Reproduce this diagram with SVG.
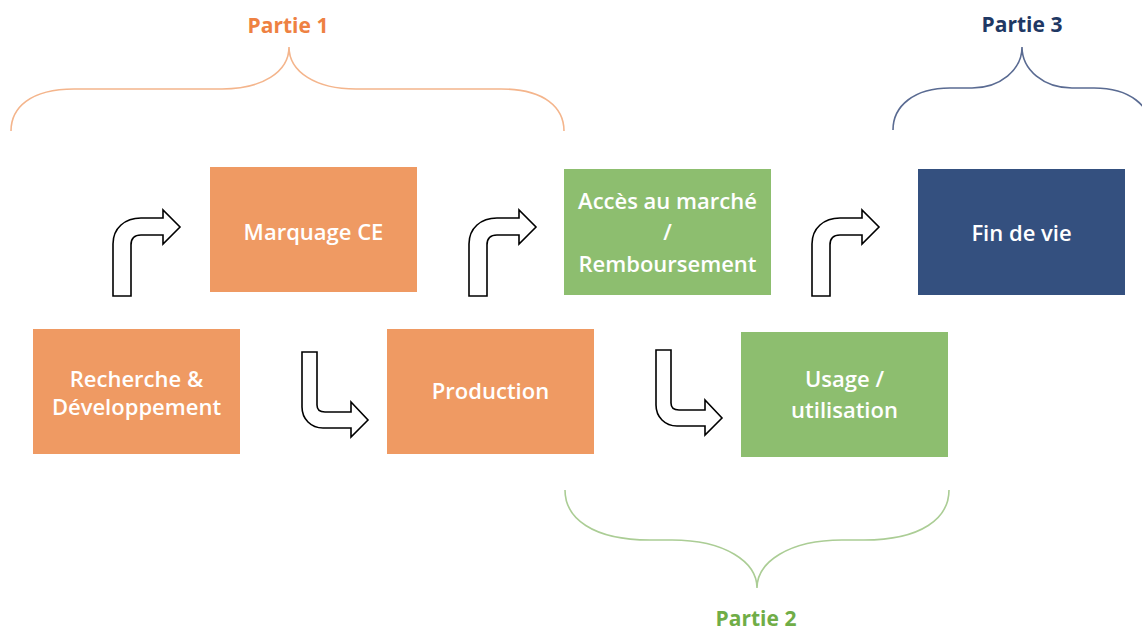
<svg xmlns="http://www.w3.org/2000/svg" xmlns:xlink="http://www.w3.org/1999/xlink" width="1142" height="632" viewBox="0 0 1142 632">
  <defs>
    <style>
      .box-o { fill: #EF9A63; }
      .box-g { fill: #8DBE6F; }
      .box-b { fill: #34507F; }
      .lbl { font-family: "Open Sans", "Liberation Sans", sans-serif; font-size: 22px; font-weight: 600; fill: #FFFFFF; text-anchor: middle; }
      .part { font-family: "Open Sans", "Liberation Sans", sans-serif; font-size: 21px; font-weight: bold; text-anchor: middle; }
      .arrow { fill: #FFFFFF; stroke: #000000; stroke-width: 1.6; stroke-linejoin: miter; }
      .brace { fill: none; stroke-width: 1.6; }
    </style>
    <path id="upArrow" class="arrow" d="M113,296 L113,244 C113,228 125,218 141,218 L163,218 L163,210 L180,227 L163,244 L163,235 L141,235 Q131,235 131,245 L131,296 Z"/>
    <path id="downArrow" class="arrow" d="M302,352 L317,352 L317,405 Q317,412 325,412 L351,412 L351,402 L368,420 L351,437 L351,428 L323,428 C311,428 302,419 302,407 Z"/>
  </defs>

  <rect width="1142" height="632" fill="#FFFFFF"/>

  <g id="braces">
    <g id="brace-partie1">
      <path class="brace" stroke="#F4B58C" d="M11,131 C11,108 30,89 74,89 L222,89 C262,89 289,72 289,47 C289,72 316,89 356,89 L501,89 C545,89 564,108 564,131"/>
      <text class="part" x="288" y="33" fill="#EE8142">Partie 1</text>
    </g>
    <g id="brace-partie2">
      <path class="brace" stroke="#ABCD95" d="M565,490 C565,518 592,540 650,540 L672,540 C725,540 757,562 757,588 C757,562 789,540 842,540 L864,540 C922,540 949,518 949,490"/>
      <text class="part" x="756" y="626" fill="#70AD47">Partie 2</text>
    </g>
    <g id="brace-partie3">
      <path class="brace" stroke="#5A6B92" d="M893,130 C893,106 914,88 950,88 L972,88 C1000,88 1022,70 1022,47 C1022,70 1044,88 1072,88 L1094,88 C1130,88 1151,106 1151,130"/>
      <text class="part" x="1022" y="32" fill="#1F3864">Partie 3</text>
    </g>
  </g>

  <g id="connectors">
    <use xlink:href="#upArrow"/>
    <use xlink:href="#upArrow" transform="translate(356,0)"/>
    <use xlink:href="#upArrow" transform="translate(699,0)"/>
    <use xlink:href="#downArrow"/>
    <use xlink:href="#downArrow" transform="translate(354,-2)"/>
  </g>

  <g id="node-rd">
    <rect class="box-o" x="33" y="329" width="207" height="125"/>
    <text class="lbl" x="136.5" y="387">Recherche &amp;</text>
    <text class="lbl" x="136.5" y="415">Développement</text>
  </g>
  <g id="node-ce">
    <rect class="box-o" x="210" y="167" width="207" height="125"/>
    <text class="lbl" x="313.5" y="240">Marquage CE</text>
  </g>
  <g id="node-production">
    <rect class="box-o" x="387" y="329" width="207" height="125"/>
    <text class="lbl" x="490.5" y="399">Production</text>
  </g>
  <g id="node-acces">
    <rect class="box-g" x="564" y="169" width="207" height="126"/>
    <text class="lbl" x="667.5" y="209">Accès au marché</text>
    <text class="lbl" x="667.5" y="240">/</text>
    <text class="lbl" x="667.5" y="272">Remboursement</text>
  </g>
  <g id="node-usage">
    <rect class="box-g" x="741" y="332" width="207" height="125"/>
    <text class="lbl" x="844.5" y="387">Usage /</text>
    <text class="lbl" x="844.5" y="418">utilisation</text>
  </g>
  <g id="node-fin">
    <rect class="box-b" x="918" y="169" width="207" height="126"/>
    <text class="lbl" x="1021.5" y="241">Fin de vie</text>
  </g>
</svg>
